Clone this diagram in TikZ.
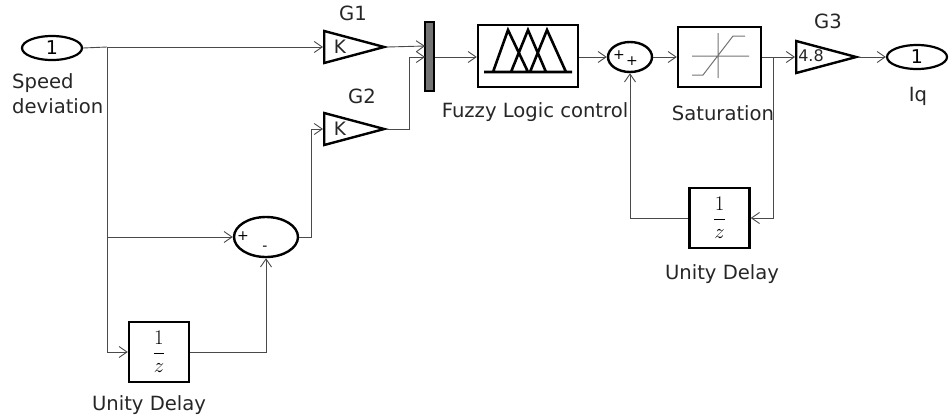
\documentclass[tikz,border=0pt]{standalone}
\usepackage{fontspec}
\setmainfont{DejaVu Sans}
\usetikzlibrary{shapes.geometric,arrows.meta}
\definecolor{wire}{HTML}{4A4A4A}
\tikzset{
    lbl/.style={font=\fontsize{19.6}{25}\selectfont,text=black!85,inner sep=0pt,align=left},
    sym/.style={font=\fontsize{18.5}{20}\selectfont,text=black!85,inner sep=0pt},
    signsym/.style={font=\fontsize{14}{16}\selectfont,text=black,inner sep=0pt},
    port/.style={draw,ellipse,line width=2.2pt,minimum width=60pt,minimum height=24pt,inner sep=0pt,font=\fontsize{19}{20}\selectfont},
    sumblock/.style={draw,ellipse,line width=2.4pt,inner sep=0pt},
    boxblock/.style={draw,line width=2.4pt,inner sep=0pt},
    delayblock/.style={boxblock,minimum width=60pt,minimum height=60pt,font=\fontsize{20}{24}\selectfont},
    gainblock/.style={draw,isosceles triangle,isosceles triangle stretches,line width=2.4pt,inner sep=0pt,
        minimum width=32pt,minimum height=60pt,anchor=lower side},
    wr/.style={draw=wire,line width=0.9pt,->,>={Straight Barb[length=8pt,width=11pt]}},
    ln/.style={draw=wire,line width=0.9pt},
    icon/.style={line width=2.6pt},
    iconthin/.style={draw=black!55,line width=1pt}
}
\begin{document}
\begin{tikzpicture}[x=1pt,y=-1pt]
\useasboundingbox (0,0) rectangle (949,418);
\node[port] (speedin) at (52,48) {1};
\node[lbl,anchor=north west] (speedlbl) at (12,73) {Speed\\deviation};
\node[gainblock] (gainA) at (323,47) {};
\node[sym] (gainAk) at (340,47) {K};
\node[lbl] (gainAlbl) at (353,13) {G1};
\node[gainblock] (gainB) at (323,129) {};
\node[sym] (gainBk) at (340,129) {K};
\node[lbl] (gainBlbl) at (362,96) {G2};
\node[draw,fill=black!55,line width=2pt,minimum width=9pt,minimum height=69pt,inner sep=0pt] (mux) at (429.5,56.5) {};
\node[boxblock,minimum width=100pt,minimum height=62pt] (fuzzy) at (528,56) {};
\node[lbl] (fuzzylbl) at (535,112) {Fuzzy Logic control};
\node[sumblock,minimum width=44pt,minimum height=30pt] (sumB) at (630,57) {};
\node[signsym] (sumBa) at (619,55) {+};
\node[signsym] (sumBb) at (632,61) {+};
\node[boxblock,minimum width=83pt,minimum height=60pt] (sat) at (719.5,57) {};
\node[lbl] (satlbl) at (723,113) {Saturation};
\node[gainblock] (gainC) at (795,57) {};
\node[sym,font=\fontsize{16}{20}\selectfont] (gainCk) at (811,56) {4.8};
\node[lbl] (gainClbl) at (828,21) {G3};
\node[port] (iqout) at (917,57) {1};
\node[lbl] (iqlbl) at (918,96) {Iq};
\node[delayblock] (delayB) at (719.5,218) {$\displaystyle\frac{1}{z}$};
\node[lbl] (delayBlbl) at (722,274) {Unity Delay};
\node[sumblock,minimum width=64pt,minimum height=40pt] (sumA) at (266,237) {};
\node[signsym] (sumAa) at (243,236) {+};
\node[signsym] (sumAb) at (265,248) {-};
\node[delayblock] (delayA) at (159,352) {$\displaystyle\frac{1}{z}$};
\node[lbl] (delayAlbl) at (149,405) {Unity Delay};
\coordinate (tapA) at (107,47);
\coordinate (tapB) at (107,237);
\coordinate (tapC) at (773,57);
\coordinate (muxA) at (425,46);
\coordinate (muxB) at (425,57);
\draw[ln] (speedin.east) -- (tapA);
\draw[wr] (tapA) -- (gainA.lower side);
\draw[ln] (tapA) -- (tapB);
\draw[wr] (tapB) |- (delayA.west);
\draw[wr] (tapB) -- (sumA.west);
\draw[wr] (delayA.east) -| (sumA.south);
\draw[wr] (sumA.east) -- ++(12,0) |- (gainB.lower side);
\draw[wr] (gainA.apex) -- (muxA);
\draw[wr] (gainB.apex) -- ++(22,0) |- (muxB);
\draw[wr] (mux.east |- muxB) -- (fuzzy.west |- muxB);
\draw[wr] (fuzzy.east |- sumB) -- (sumB.west);
\draw[wr] (sumB.east) -- (sat.west);
\draw[wr] (sat.east) -- (gainC.lower side);
\draw[wr] (gainC.apex) -- (iqout.west);
\draw[wr] (tapC) |- (delayB.east);
\draw[wr] (delayB.west) -| (sumB.south);
\draw[icon] (484,72) -- (572,72)
    (493,72) -- (508,30) -- (528,72)
    (511,72) -- (528,30) -- (546,72)
    (530,72) -- (547,30) -- (566,72);
\draw[iconthin] (692,56) -- (749,56) (718,33) -- (718,78)
    (692,75) -- (703,75) -- (733,36) -- (745,36);
\end{tikzpicture}
\end{document}
